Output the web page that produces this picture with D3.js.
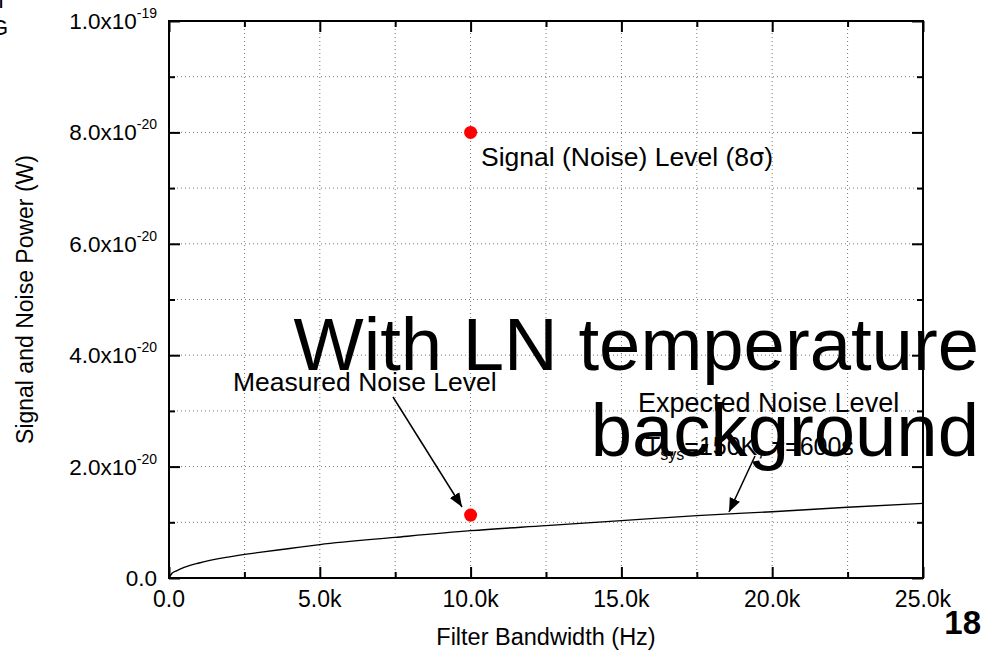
<!DOCTYPE html>
<html>
<head>
<meta charset="utf-8">
<script src="https://cdn.jsdelivr.net/npm/d3@7"></script>
<style>
  html, body { margin: 0; padding: 0; background: #fff; }
  svg { display: block; font-family: Arial, "Liberation Sans", Helvetica, sans-serif; }
</style>
</head>
<body>
<div id="chart"></div>
<script>
// Filter bandwidth (Hz) versus signal / noise power (W)
const bandwidth = [0, 100, 250, 500, 1000, 2000, 3000, 4000, 5000, 7500, 10000, 12500, 15000, 17500, 20000, 22500, 25000];
const expectedNoise = [0, 0.085e-20, 0.13e-20, 0.19e-20, 0.27e-20, 0.38e-20, 0.46e-20, 0.53e-20, 0.60e-20, 0.73e-20, 0.85e-20, 0.94e-20, 1.03e-20, 1.12e-20, 1.19e-20, 1.27e-20, 1.34e-20];

const pointNames = ["Signal (Noise) Level", "Measured Noise Level"];
const pointBandwidth = [10000, 10000];
const pointPower = [8.0e-20, 1.13e-20];

const xTickValues = [0, 5000, 10000, 15000, 20000, 25000];
const xTickLabels = ["0.0", "5.0k", "10.0k", "15.0k", "20.0k", "25.0k"];
const xMinorValues = [2500, 7500, 12500, 17500, 22500];

const yTickValues = [0, 2e-20, 4e-20, 6e-20, 8e-20, 1e-19];
const yTickMantissa = ["0.0", "2.0x10", "4.0x10", "6.0x10", "8.0x10", "1.0x10"];
const yTickExponent = ["", "-20", "-20", "-20", "-20", "-19"];
const yMinorValues = [1e-20, 3e-20, 5e-20, 7e-20, 9e-20];

const W = 986, H = 656;
const plot = { left: 169, right: 923, top: 21, bottom: 578 };

const svg = d3.select("#chart").append("svg")
  .attr("width", W).attr("height", H);

const x = d3.scaleLinear().domain([0, 25000]).range([plot.left, plot.right]);
const y = d3.scaleLinear().domain([0, 1e-19]).range([plot.bottom, plot.top]);

// dotted grid at every major and minor step
const grid = svg.append("g").attr("stroke", "#777").attr("stroke-width", 1)
  .attr("stroke-dasharray", "1,3").attr("fill", "none");
const gx = xTickValues.concat(xMinorValues).filter(v => v > 0 && v < 25000);
const gy = yTickValues.concat(yMinorValues).filter(v => v > 0 && v < 1e-19);
grid.selectAll("line.gx").data(gx).join("line").attr("class", "gx")
  .attr("x1", d => x(d)).attr("x2", d => x(d)).attr("y1", plot.top).attr("y2", plot.bottom);
grid.selectAll("line.gy").data(gy).join("line").attr("class", "gy")
  .attr("y1", d => y(d)).attr("y2", d => y(d)).attr("x1", plot.left).attr("x2", plot.right);

// inward ticks on all four sides
function tickAxis(axisFn, scale, values, size, transform) {
  const g = svg.append("g").attr("transform", transform)
    .call(axisFn(scale).tickValues(values).tickSize(size).tickFormat(""));
  g.select(".domain").remove();
  g.selectAll(".tick line").attr("stroke", "#000").attr("stroke-width", 2);
  return g;
}
tickAxis(d3.axisTop, x, xTickValues, 11, `translate(0,${plot.bottom})`);
tickAxis(d3.axisTop, x, xMinorValues, 6, `translate(0,${plot.bottom})`);
tickAxis(d3.axisBottom, x, xTickValues, 11, `translate(0,${plot.top})`);
tickAxis(d3.axisBottom, x, xMinorValues, 6, `translate(0,${plot.top})`);
tickAxis(d3.axisRight, y, yTickValues, 11, `translate(${plot.left},0)`);
tickAxis(d3.axisRight, y, yMinorValues, 6, `translate(${plot.left},0)`);
tickAxis(d3.axisLeft, y, yTickValues, 11, `translate(${plot.right},0)`);
tickAxis(d3.axisLeft, y, yMinorValues, 6, `translate(${plot.right},0)`);

// frame
svg.append("rect")
  .attr("x", plot.left).attr("y", plot.top)
  .attr("width", plot.right - plot.left).attr("height", plot.bottom - plot.top)
  .attr("fill", "none").attr("stroke", "#000").attr("stroke-width", 2);

// x tick labels
svg.append("g").selectAll("text").data(xTickValues).join("text")
  .attr("x", d => x(d)).attr("y", plot.bottom + 29)
  .attr("text-anchor", "middle").attr("font-size", 23)
  .text((d, i) => xTickLabels[i]);

// y tick labels with exponent
const yl = svg.append("g").selectAll("text").data(yTickValues).join("text")
  .attr("x", 157).attr("y", d => y(d) + 8)
  .attr("text-anchor", "end").attr("font-size", 22.5);
yl.append("tspan").text((d, i) => yTickMantissa[i]);
yl.append("tspan").attr("dy", -11).attr("font-size", 14).text((d, i) => yTickExponent[i]);

// axis titles
svg.append("text").attr("x", (plot.left + plot.right) / 2).attr("y", 645)
  .attr("text-anchor", "middle").attr("font-size", 23.5).text("Filter Bandwidth (Hz)");
svg.append("text").attr("transform", `translate(33,${(plot.top + plot.bottom) / 2}) rotate(-90)`)
  .attr("text-anchor", "middle").attr("font-size", 23).text("Signal and Noise Power (W)");

// expected noise curve
const line = d3.line().x((d, i) => x(bandwidth[i])).y(d => y(d)).curve(d3.curveMonotoneX);
svg.append("path").datum(expectedNoise)
  .attr("d", line).attr("fill", "none").attr("stroke", "#000").attr("stroke-width", 1.4);

// measured points
svg.append("g").selectAll("circle").data(pointPower).join("circle")
  .attr("cx", (d, i) => x(pointBandwidth[i])).attr("cy", d => y(d))
  .attr("r", 6.5).attr("fill", "#ff0000");

// annotations
const defs = svg.append("defs");
defs.append("marker").attr("id", "arrow").attr("viewBox", "0 0 10 10")
  .attr("refX", 10).attr("refY", 5).attr("markerWidth", 14).attr("markerHeight", 14)
  .attr("markerUnits", "userSpaceOnUse").attr("orient", "auto")
  .append("path").attr("d", "M0,1 L10,5 L0,9 Z").attr("fill", "#000");

svg.append("text").attr("x", 481).attr("y", 166).attr("font-size", 26.5)
  .html('Signal (Noise) Level (8<tspan font-family="DejaVu Sans" font-size="24">σ</tspan>)');

svg.append("text").attr("x", 233).attr("y", 391).attr("font-size", 26.5)
  .text("Measured Noise Level");
svg.append("line").attr("x1", 393).attr("y1", 397).attr("x2", 462).attr("y2", 507)
  .attr("stroke", "#000").attr("stroke-width", 1.5).attr("marker-end", "url(#arrow)");

svg.append("text").attr("x", 638).attr("y", 412).attr("font-size", 27)
  .text("Expected Noise Level");
const ts = svg.append("text").attr("x", 645).attr("y", 455).attr("font-size", 25);
ts.append("tspan").text("T");
ts.append("tspan").attr("dy", 5).attr("font-size", 16).text("sys");
ts.append("tspan").attr("dy", -5).text("=150K, ");
ts.append("tspan").attr("font-family", "DejaVu Sans").attr("font-size", 23).text("τ");
ts.append("tspan").text("=600s");
svg.append("line").attr("x1", 755).attr("y1", 456).attr("x2", 729).attr("y2", 512)
  .attr("stroke", "#000").attr("stroke-width", 1.5).attr("marker-end", "url(#arrow)");

// overlay caption
const cap = svg.append("text").attr("text-anchor", "end").attr("font-size", 74.3).attr("fill", "#000");
cap.append("tspan").attr("x", 979).attr("y", 370).text("With LN temperature");
cap.append("tspan").attr("x", 979).attr("y", 456).text("background");

// page number
svg.append("text").attr("x", 981).attr("y", 634).attr("text-anchor", "end")
  .attr("font-size", 33).attr("font-weight", "bold").text("18");

// clipped side text at the page edge
svg.append("text").attr("x", -2).attr("y", 8).attr("font-size", 22).text("I");
svg.append("text").attr("x", -9).attr("y", 35).attr("font-size", 22).text("G");
</script>
</body>
</html>
